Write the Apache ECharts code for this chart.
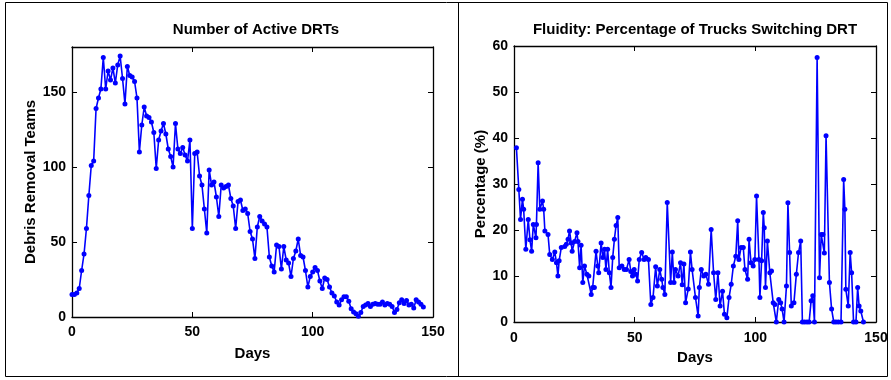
<!DOCTYPE html>
<html>
<head>
<meta charset="utf-8">
<script src="https://cdn.jsdelivr.net/npm/echarts@6/dist/echarts.min.js"></script>
<style>
html,body{margin:0;padding:0;background:#fff;}
#main{width:891px;height:380px;}
</style>
</head>
<body>
<div id="main"></div>
<script>
// ---- Left panel: Number of Active DRTs (one value per day, starting at day 0)
var leftTitle = 'Number of Active DRTs';
var leftYName = 'Debris Removal Teams';
var leftXName = 'Days';
var activeDRTs = [
  15, 15, 16, 19, 31, 42, 59, 81, 101, 104,
  139, 146, 152, 173, 152, 164, 158, 166, 156, 168,
  174, 159, 142, 167, 161, 160, 157, 146, 110, 128,
  140, 134, 133, 130, 123, 99, 118, 124, 129, 122,
  112, 107, 100, 129, 112, 109, 113, 108, 104, 118,
  59, 109, 110, 94, 88, 72, 56, 98, 88, 90,
  80, 67, 88, 86, 87, 88, 79, 74, 59, 77,
  78, 71, 72, 69, 57, 52, 39, 60, 67, 64,
  62, 60, 40, 34, 30, 48, 47, 32, 47, 38,
  36, 27, 39, 44, 52, 41, 40, 31, 20, 27,
  30, 33, 31, 24, 19, 26, 25, 20, 16, 14,
  10, 8, 11.5, 13.5, 13.5, 10.5, 5.5, 3.3, 2.2, 0.5,
  3, 7, 8, 9, 7, 8.5, 9, 8.5, 8.5, 10,
  8, 9, 8.5, 7, 3, 5, 9.5, 11.5, 9, 11,
  8, 8.5, 6, 11.5, 10, 8.5, 6.7
];
var leftXTicks = [0, 50, 100, 150];
var leftYTicks = [0, 50, 100, 150];

// ---- Right panel: Fluidity (day, percentage)
var rightTitle = 'Fluidity: Percentage of Trucks Switching DRT';
var rightYName = 'Percentage (%)';
var rightXName = 'Days';
var fluidDays = [
  1, 2, 2.7, 3.5, 4, 4.9, 5.9, 6.6, 7.3, 8,
  9.1, 9.3, 10, 10.7, 11.8, 12.3, 12.8, 14.1, 14.8, 15.9,
  16.9, 17.6, 18.2, 18.7, 19.6, 21, 21.7, 22.4, 23, 23.7,
  24.1, 25.1, 26.1, 26.5, 27.2, 27.8, 28.5, 29.2, 30.2, 31,
  32, 32.6, 33.3, 34, 34.7, 35.1, 36.1, 36.8, 37.5, 38.1,
  38.8, 39.5, 40.2, 40.9, 41.6, 42.3, 43, 43.6, 44.7, 45.7,
  46.6, 47.7, 48.4, 49.1, 49.8, 50.5, 51.2, 51.9, 52.9, 53.9,
  54.6, 55.7, 56.7, 57.6, 58.7, 59.4, 60.4, 61.2, 61.7, 62.5,
  63.5, 64.9, 65.6, 66.3, 66.9, 68, 69, 69.7, 70.4, 71.1,
  72.2, 73.1, 73.8, 75.2, 76.3, 76.8, 77.6, 78.6, 79.5, 80.6,
  81.7, 82.7, 83.6, 84.5, 85.4, 86.4, 87.2, 88.2, 89.1, 90,
  90.9, 91.9, 92.7, 93.2, 94.1, 95, 95.7, 96.8, 97.4, 98.2,
  99.1, 99.8, 100.5, 101.5, 101.9, 102.6, 103.3, 103.7, 104.2, 105,
  106, 106.7, 107.4, 108.1, 108.7, 109.7, 110.5, 111.1, 111.9, 112.9,
  113.5, 114.2, 114.9, 116, 117, 117.9, 118.8, 119.5, 120.4, 121.4,
  122.3, 123.1, 123.8, 124.5, 125.6, 126.6, 127.3, 128, 128.6, 129.3,
  130.7, 131.6, 132.5, 133.4, 134.4, 135.5, 136.6, 137.1, 137.5, 138.5,
  139.3, 139.9, 140.7, 141.7, 142.4, 143, 143.7, 144.8
];
var fluidPct = [
  37.9, 28.8, 22.3, 26.7, 24.5, 15.8, 22.3, 17.9, 15.4, 21.2,
  18.3, 21.2, 34.6, 24.5, 26.3, 24.5, 19.8, 19, 14.7, 13.6,
  15.2, 12.9, 10, 13.3, 16.2, 16.4, 16.9, 18, 19.8, 17.2,
  15.4, 17.5, 19.4, 17.5, 11.8, 16.7, 8.6, 12.2, 10.4, 10,
  6, 7.5, 7.5, 15.4, 12.2, 10.7, 17.2, 14, 15.8, 11.4,
  15.8, 10.7, 7.5, 14, 18, 21, 22.7, 11.8, 12.2, 11.4,
  11.4, 13.6, 11, 10, 11.4, 10.4, 8.9, 13.6, 15.1, 13.6,
  14, 13.6, 3.8, 5.3, 12, 7.8, 11.4, 9.3, 7.5, 6,
  26, 8.6, 15.2, 8.6, 11.4, 10, 12.9, 8.1, 12.6, 4.2,
  7.2, 15.2, 11.4, 5.3, 1.3, 7.5, 11.4, 10, 10.4, 8.2,
  20.1, 10.7, 4.9, 10.7, 3.5, 6.7, 1.7, 0.9, 5.3, 8.2,
  12.2, 14.3, 22, 13.6, 16.2, 16.2, 11.4, 9.3, 18, 12.9,
  12.2, 13.6, 27.4, 13.6, 5.3, 13.3, 23.8, 20.5, 7.5, 17.6,
  10.7, 11.1, 4.2, 3.8, 0, 4.9, 4.2, 2.8, 0, 7.8,
  25.9, 15.1, 3.5, 4.2, 10.4, 15.1, 17.6, 0, 0, 0,
  0, 4.6, 5.7, 0, 57.5, 9.6, 19, 19, 15, 40.5,
  8.6, 2.8, 0, 0, 0, 0, 31, 24.5, 7.1, 3.5,
  15.1, 10.7, 0, 0, 7.5, 3.5, 2.4, 0
];
var rightXTicks = [0, 50, 100, 150];
var rightYTicks = [0, 10, 20, 30, 40, 50, 60];

var FONT = 'Liberation Sans';
var lblStyle = {color:'#000', fontFamily:FONT, fontWeight:'bold', fontSize:14};

function mkAxes(gi, min, max, interval, isX, name, ticks, nameGap, margin) {
  var base = {
    type:'value', gridIndex:gi, min:min, max:max, interval:interval,
    axisLine:{show:true, onZero:false, lineStyle:{color:'#000', width:1.3}},
    axisTick:{show:true, inside:true, length:5, lineStyle:{color:'#000', width:1}},
    splitLine:{show:false}
  };
  var main = Object.assign({}, base, {
    position: isX ? 'bottom' : 'left',
    name: name, nameLocation:'middle', nameGap:nameGap,
    nameTextStyle:{color:'#000', fontFamily:FONT, fontWeight:'bold', fontSize:15},
    axisLabel:Object.assign({margin:margin, formatter:function(v){return ticks.indexOf(v)>=0 ? String(v) : '';}}, lblStyle)
  });
  var mirror = Object.assign({}, base, {
    position: isX ? 'top' : 'right',
    axisLabel:{show:false}
  });
  return [main, mirror];
}

var lx = mkAxes(0, 0, 150, 50, true, leftXName, leftXTicks, 29, 8);
var ly = mkAxes(0, 0, 180, 50, false, leftYName, leftYTicks, 34, 6);
var rx = mkAxes(1, 0, 150, 50, true, rightXName, rightXTicks, 28, 9);
var ry = mkAxes(1, 0, 60, 10, false, rightYName, rightYTicks, 25, 6);

var chart = echarts.init(document.getElementById('main'), null, {renderer:'canvas'});
chart.setOption({
  animation:false,
  backgroundColor:'#fff',
  title:[
    {text:leftTitle, left:251, top:17, textAlign:'center', textStyle:{color:'#000', fontFamily:FONT, fontWeight:'bold', fontSize:15}},
    {text:rightTitle, left:690, top:17, textAlign:'center', textStyle:{color:'#000', fontFamily:FONT, fontWeight:'bold', fontSize:15}}
  ],
  grid:[
    {left:72, top:47, width:361, height:270, containLabel:false},
    {left:514, top:46, width:362, height:276, containLabel:false}
  ],
  xAxis:[lx[0], lx[1], rx[0], rx[1]],
  yAxis:[ly[0], ly[1], ry[0], ry[1]],
  series:[
    {type:'line', xAxisIndex:0, yAxisIndex:0,
     data: activeDRTs.map(function(v,i){return [i, v];}),
     symbol:'circle', symbolSize:5, showSymbol:true,
     lineStyle:{color:'#0000ff', width:1.6}, itemStyle:{color:'#0000ff'}},
    {type:'line', xAxisIndex:2, yAxisIndex:2,
     data: fluidDays.map(function(d,i){return [d, fluidPct[i]];}),
     symbol:'circle', symbolSize:5, showSymbol:true,
     lineStyle:{color:'#0000ff', width:1.6}, itemStyle:{color:'#0000ff'}}
  ],
  graphic:[
    {type:'rect', shape:{x:5.5, y:2.5, width:882, height:374}, style:{fill:null, stroke:'#000', lineWidth:1}, silent:true},
    {type:'line', shape:{x1:458.5, y1:2.5, x2:458.5, y2:376.5}, style:{stroke:'#000', lineWidth:1}, silent:true}
  ]
});
</script>
</body>
</html>
